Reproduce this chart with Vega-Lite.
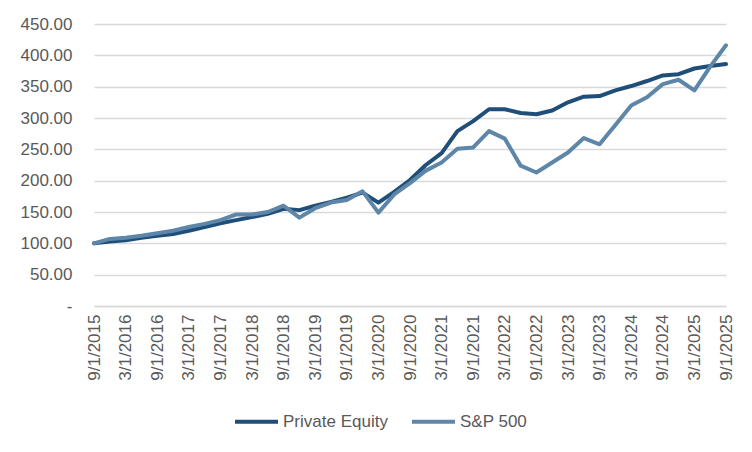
{
  "$schema": "https://vega.github.io/schema/vega-lite/v6.json",
  "width": 632,
  "height": 282,
  "autosize": {"type": "none"},
  "padding": {"left": 94, "top": 24, "right": 26, "bottom": 146},
  "background": "#ffffff",
  "config": {
    "view": {"stroke": null},
    "font": "Liberation Sans",
    "axis": {"labelFont": "Liberation Sans", "labelColor": "#595959", "labelFontSize": 17},
    "legend": {"labelFont": "Liberation Sans", "labelColor": "#595959", "labelFontSize": 17}
  },
  "data": {
    "values": [
      {"date": "9/1/2015", "series": "Private Equity", "value": 100},
      {"date": "12/1/2015", "series": "Private Equity", "value": 103},
      {"date": "3/1/2016", "series": "Private Equity", "value": 105},
      {"date": "6/1/2016", "series": "Private Equity", "value": 109},
      {"date": "9/1/2016", "series": "Private Equity", "value": 112},
      {"date": "12/1/2016", "series": "Private Equity", "value": 115},
      {"date": "3/1/2017", "series": "Private Equity", "value": 120},
      {"date": "6/1/2017", "series": "Private Equity", "value": 126},
      {"date": "9/1/2017", "series": "Private Equity", "value": 132},
      {"date": "12/1/2017", "series": "Private Equity", "value": 137},
      {"date": "3/1/2018", "series": "Private Equity", "value": 142},
      {"date": "6/1/2018", "series": "Private Equity", "value": 147},
      {"date": "9/1/2018", "series": "Private Equity", "value": 155},
      {"date": "12/1/2018", "series": "Private Equity", "value": 153},
      {"date": "3/1/2019", "series": "Private Equity", "value": 160},
      {"date": "6/1/2019", "series": "Private Equity", "value": 166},
      {"date": "9/1/2019", "series": "Private Equity", "value": 173},
      {"date": "12/1/2019", "series": "Private Equity", "value": 181},
      {"date": "3/1/2020", "series": "Private Equity", "value": 165},
      {"date": "6/1/2020", "series": "Private Equity", "value": 182},
      {"date": "9/1/2020", "series": "Private Equity", "value": 201},
      {"date": "12/1/2020", "series": "Private Equity", "value": 225},
      {"date": "3/1/2021", "series": "Private Equity", "value": 244},
      {"date": "6/1/2021", "series": "Private Equity", "value": 279},
      {"date": "9/1/2021", "series": "Private Equity", "value": 295},
      {"date": "12/1/2021", "series": "Private Equity", "value": 314},
      {"date": "3/1/2022", "series": "Private Equity", "value": 314},
      {"date": "6/1/2022", "series": "Private Equity", "value": 308},
      {"date": "9/1/2022", "series": "Private Equity", "value": 306},
      {"date": "12/1/2022", "series": "Private Equity", "value": 312},
      {"date": "3/1/2023", "series": "Private Equity", "value": 325},
      {"date": "6/1/2023", "series": "Private Equity", "value": 334},
      {"date": "9/1/2023", "series": "Private Equity", "value": 335},
      {"date": "12/1/2023", "series": "Private Equity", "value": 344},
      {"date": "3/1/2024", "series": "Private Equity", "value": 351},
      {"date": "6/1/2024", "series": "Private Equity", "value": 359},
      {"date": "9/1/2024", "series": "Private Equity", "value": 368},
      {"date": "12/1/2024", "series": "Private Equity", "value": 370},
      {"date": "3/1/2025", "series": "Private Equity", "value": 379},
      {"date": "6/1/2025", "series": "Private Equity", "value": 383},
      {"date": "9/1/2025", "series": "Private Equity", "value": 386},
      {"date": "9/1/2015", "series": "S&P 500", "value": 100},
      {"date": "12/1/2015", "series": "S&P 500", "value": 107},
      {"date": "3/1/2016", "series": "S&P 500", "value": 109},
      {"date": "6/1/2016", "series": "S&P 500", "value": 112},
      {"date": "9/1/2016", "series": "S&P 500", "value": 116},
      {"date": "12/1/2016", "series": "S&P 500", "value": 120},
      {"date": "3/1/2017", "series": "S&P 500", "value": 126},
      {"date": "6/1/2017", "series": "S&P 500", "value": 131},
      {"date": "9/1/2017", "series": "S&P 500", "value": 137},
      {"date": "12/1/2017", "series": "S&P 500", "value": 146},
      {"date": "3/1/2018", "series": "S&P 500", "value": 146},
      {"date": "6/1/2018", "series": "S&P 500", "value": 150},
      {"date": "9/1/2018", "series": "S&P 500", "value": 160},
      {"date": "12/1/2018", "series": "S&P 500", "value": 141},
      {"date": "3/1/2019", "series": "S&P 500", "value": 156},
      {"date": "6/1/2019", "series": "S&P 500", "value": 165},
      {"date": "9/1/2019", "series": "S&P 500", "value": 169},
      {"date": "12/1/2019", "series": "S&P 500", "value": 183},
      {"date": "3/1/2020", "series": "S&P 500", "value": 149},
      {"date": "6/1/2020", "series": "S&P 500", "value": 178},
      {"date": "9/1/2020", "series": "S&P 500", "value": 196},
      {"date": "12/1/2020", "series": "S&P 500", "value": 216},
      {"date": "3/1/2021", "series": "S&P 500", "value": 229},
      {"date": "6/1/2021", "series": "S&P 500", "value": 251},
      {"date": "9/1/2021", "series": "S&P 500", "value": 253},
      {"date": "12/1/2021", "series": "S&P 500", "value": 279},
      {"date": "3/1/2022", "series": "S&P 500", "value": 267},
      {"date": "6/1/2022", "series": "S&P 500", "value": 224},
      {"date": "9/1/2022", "series": "S&P 500", "value": 213},
      {"date": "12/1/2022", "series": "S&P 500", "value": 229},
      {"date": "3/1/2023", "series": "S&P 500", "value": 245},
      {"date": "6/1/2023", "series": "S&P 500", "value": 268},
      {"date": "9/1/2023", "series": "S&P 500", "value": 258},
      {"date": "12/1/2023", "series": "S&P 500", "value": 289},
      {"date": "3/1/2024", "series": "S&P 500", "value": 320},
      {"date": "6/1/2024", "series": "S&P 500", "value": 333},
      {"date": "9/1/2024", "series": "S&P 500", "value": 354},
      {"date": "12/1/2024", "series": "S&P 500", "value": 361},
      {"date": "3/1/2025", "series": "S&P 500", "value": 344},
      {"date": "6/1/2025", "series": "S&P 500", "value": 382},
      {"date": "9/1/2025", "series": "S&P 500", "value": 416}
    ]
  },
  "mark": {"type": "line", "strokeWidth": 4, "strokeCap": "round", "strokeJoin": "round"},
  "encoding": {
    "x": {
      "field": "date",
      "type": "ordinal",
      "sort": null,
      "scale": {"type": "point", "padding": 0},
      "axis": {
        "title": null,
        "values": ["9/1/2015","3/1/2016","9/1/2016","3/1/2017","9/1/2017","3/1/2018","9/1/2018","3/1/2019","9/1/2019","3/1/2020","9/1/2020","3/1/2021","9/1/2021","3/1/2022","9/1/2022","3/1/2023","9/1/2023","3/1/2024","9/1/2024","3/1/2025","9/1/2025"],
        "labelAngle": -90,
        "labelPadding": 8,
        "ticks": false,
        "grid": false,
        "domain": true,
        "domainColor": "#D9D9D9",
        "domainWidth": 1.5,
        "labelOverlap": false
      }
    },
    "y": {
      "field": "value",
      "type": "quantitative",
      "scale": {"domain": [0, 450], "nice": false, "zero": true},
      "axis": {
        "title": null,
        "values": [0, 50, 100, 150, 200, 250, 300, 350, 400, 450],
        "labelExpr": "datum.value == 0 ? '-\u00a0\u00a0\u00a0' : format(datum.value, '.2f')",
        "domain": false,
        "ticks": false,
        "labelPadding": 22,
        "gridColor": "#D9D9D9",
        "gridWidth": 1.5
      }
    },
    "color": {
      "field": "series",
      "type": "nominal",
      "scale": {"domain": ["Private Equity", "S&P 500"], "range": ["#1F4E79", "#5E86A9"]},
      "legend": {
        "title": null,
        "orient": "none",
        "direction": "horizontal",
        "legendX": 139,
        "legendY": 374,
        "symbolType": "stroke",
        "symbolSize": 1849,
        "symbolStrokeWidth": 4,
        "labelOffset": 3,
        "columnPadding": 16,
        "padding": 0
      }
    }
  }
}
